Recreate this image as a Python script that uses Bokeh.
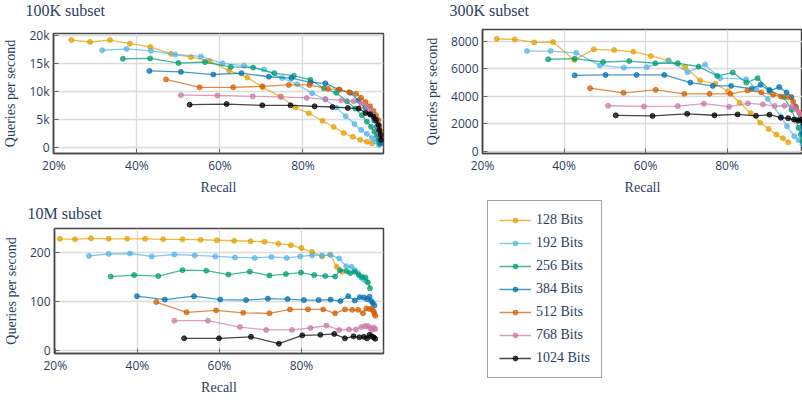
from bokeh.plotting import figure
from bokeh.models import (Range1d, FixedTicker, PrintfTickFormatter, CustomJSTickFormatter,
                          Legend, LegendItem, ColumnDataSource, Label)
from bokeh.layouts import row, column
from bokeh.embed import file_html
from bokeh.resources import INLINE

SERIF = "Liberation Serif"
SANS = "Open Sans"
TXT = "#2a3f5f"

labels = ["128 Bits", "192 Bits", "256 Bits", "384 Bits", "512 Bits", "768 Bits", "1024 Bits"]
colors = ["#E69F00", "#56B4E9", "#009E73", "#0072B2", "#D55E00", "#CC79A7", "#000000"]
titles = ["100K subset", "300K subset", "10M subset"]

# ---------------- 100K subset ----------------
r100k_128 = [24.2, 28.7, 33.5, 38.3, 43.2, 48.2, 53.0, 57.5, 62.2, 66.6, 70.3, 74.6, 78.2, 81.4, 84.7, 87.4, 89.8, 92.0, 93.8, 95.4, 96.6]
q100k_128 = [19230, 18880, 19230, 18580, 17990, 16760, 16170, 15460, 13760, 12520, 10760, 9110, 7170, 6110, 4760, 3650, 2590, 1880, 1350, 1000, 710]
r100k_192 = [31.6, 37.5, 43.4, 49.2, 55.4, 60.6, 65.8, 70.6, 75.0, 78.6, 82.2, 85.4, 88.0, 90.3, 92.4, 94.0, 95.4, 96.6, 97.5, 98.3]
q100k_192 = [17400, 17640, 17290, 16640, 16290, 15050, 14640, 13940, 12420, 11300, 9700, 8590, 7130, 5590, 4180, 3120, 2420, 1660, 1060, 480]
r100k_256 = [36.6, 43.2, 50.0, 56.4, 62.6, 68.0, 73.1, 77.8, 81.8, 85.0, 88.0, 90.6, 92.6, 94.2, 95.4, 96.4, 97.2, 97.8, 98.2, 98.5]
q100k_256 = [15880, 15940, 15110, 15290, 14410, 14290, 13300, 12820, 12120, 10580, 9770, 8240, 6950, 5770, 4590, 3700, 2820, 2060, 1360, 650]
r100k_384 = [43.0, 50.6, 58.4, 65.2, 71.8, 77.2, 81.8, 85.4, 88.7, 91.4, 93.4, 95.0, 96.2, 97.2, 97.8, 98.2, 98.6, 98.8]
q100k_384 = [13700, 13520, 13050, 13300, 12650, 12420, 11640, 11470, 10360, 9770, 8410, 7130, 5890, 4760, 3700, 2650, 1660, 780]
r100k_512 = [47.0, 55.1, 63.2, 70.2, 76.6, 81.6, 86.0, 88.8, 91.1, 92.8, 94.0, 95.1, 96.2, 97.0, 97.6, 98.2, 98.4, 98.7]
q100k_512 = [12170, 10760, 10760, 10940, 11180, 11180, 10480, 10350, 9880, 9600, 8890, 8110, 7360, 6530, 5770, 4890, 3830, 2820]
r100k_768 = [50.6, 59.4, 67.9, 74.7, 80.9, 85.4, 89.3, 92.2, 94.0, 95.4, 96.4, 97.2, 97.8, 98.2, 98.4, 98.7]
q100k_768 = [9350, 9290, 9150, 9030, 8850, 8650, 8440, 8260, 7830, 7230, 6530, 5590, 4590, 3600, 2540, 1660]
r100k_1024 = [52.7, 61.6, 70.2, 77.0, 82.8, 87.1, 90.8, 93.4, 95.1, 96.2, 97.0, 97.6, 98.2, 98.4, 98.7, 98.8]
q100k_1024 = [7640, 7760, 7530, 7530, 7360, 7230, 7060, 6950, 6170, 5940, 5470, 4890, 4000, 3120, 2240, 1360]

# ---------------- 300K subset ----------------
r300k_128 = [23.5, 27.9, 32.7, 37.3, 42.5, 47.3, 52.3, 57.0, 61.3, 65.6, 69.7, 73.4, 77.1, 80.2, 83.1, 85.8, 88.1, 90.2, 92.1, 93.7, 95.0]
q300k_128 = [8190, 8150, 7930, 7950, 6650, 7420, 7370, 7250, 6940, 6620, 6140, 5150, 4910, 4370, 3530, 2760, 2080, 1620, 1210, 940, 650]
r300k_192 = [30.9, 36.7, 43.0, 48.8, 54.7, 60.3, 65.7, 70.3, 74.6, 78.3, 84.7, 87.2, 90.0, 93.2, 94.7, 96.5, 97.6, 98.5]
q300k_192 = [7300, 7300, 7170, 6250, 6090, 6120, 6600, 5760, 6310, 5320, 5250, 4520, 3800, 2540, 1810, 1090, 800, 500]
r300k_256 = [36.1, 42.6, 49.6, 56.0, 62.4, 67.9, 73.0, 77.6, 81.4, 84.7, 87.5, 90.4, 93.9, 95.8, 96.8, 97.5, 98.1, 98.5]
q300k_256 = [6700, 6740, 6500, 6570, 6410, 6410, 6160, 5490, 5730, 5000, 5320, 4470, 3940, 3020, 2300, 1700, 1210, 725]
r300k_384 = [42.6, 50.2, 57.8, 64.6, 71.0, 76.5, 81.0, 86.0, 88.2, 90.4, 92.8, 94.6, 95.8, 96.8, 97.8, 98.5]
q300k_384 = [5530, 5560, 5560, 5560, 5000, 4760, 4760, 4550, 4840, 4400, 4670, 4280, 3940, 3260, 2300, 1330]
r300k_512 = [46.4, 54.6, 62.5, 69.5, 75.7, 80.8, 85.0, 88.4, 91.3, 93.2, 95.0, 96.2, 97.0, 97.8, 98.5]
q300k_512 = [4590, 4250, 4470, 4180, 4180, 4180, 4420, 4280, 4110, 3990, 3940, 3630, 3150, 2780, 2300]
r300k_768 = [50.8, 59.6, 67.9, 74.3, 80.5, 85.1, 88.8, 91.7, 94.1, 95.9, 96.8, 97.6, 98.3, 98.8]
q300k_768 = [3310, 3260, 3290, 3460, 3240, 3480, 3410, 3290, 3310, 3260, 3070, 2830, 2540, 2200]
r300k_1024 = [52.7, 61.7, 70.2, 76.9, 82.6, 87.1, 90.4, 93.2, 95.0, 96.4, 97.5, 98.3, 98.8]
q300k_1024 = [2610, 2570, 2720, 2620, 2680, 2580, 2660, 2440, 2400, 2300, 2230, 2300, 2000]

# ---------------- 10M subset ----------------
r10m_128 = [21.1, 24.8, 28.7, 33.0, 37.5, 41.9, 46.3, 51.0, 55.4, 59.4, 63.6, 67.6, 71.0, 74.4, 77.4, 80.0, 82.6, 85.0, 87.0, 88.6, 89.9]
q10m_128 = [227, 226, 228, 227, 227, 227, 226, 226, 225, 224, 223, 222, 221, 217, 214, 208, 200, 191, 195, 170, 160]
r10m_192 = [28.2, 33.0, 38.2, 43.5, 49.0, 54.0, 59.0, 63.8, 68.6, 72.7, 76.4, 79.7, 82.6, 85.0, 87.1, 89.2, 90.9, 92.2, 93.0, 93.8, 94.6, 95.2, 95.8]
q10m_192 = [192, 196, 197, 191, 195, 193, 191, 189, 188, 190, 188, 191, 193, 193, 194, 187, 171, 170, 163, 157, 148, 144, 141]
r10m_256 = [33.5, 39.2, 45.1, 51.0, 56.8, 62.2, 67.4, 72.2, 76.2, 79.9, 83.1, 85.8, 88.2, 89.4, 91.0, 91.9, 93.0, 94.0, 94.8, 95.6, 96.2, 96.7]
q10m_256 = [150, 153, 151, 163, 162, 154, 160, 152, 155, 158, 153, 151, 150, 163, 161, 157, 160, 153, 149, 148, 138, 126]
r10m_384 = [39.9, 46.7, 53.8, 60.2, 66.5, 71.8, 76.6, 80.6, 84.2, 87.1, 89.5, 91.4, 93.0, 94.2, 95.2, 96.0, 96.6, 97.0, 97.4, 97.8]
q10m_384 = [110, 103, 110, 103, 102, 105, 104, 102, 102, 103, 100, 110, 101, 108, 107, 104, 109, 100, 96, 91]
r10m_512 = [44.6, 52.0, 59.2, 65.8, 72.2, 77.2, 81.6, 85.3, 88.2, 90.6, 92.4, 93.8, 95.0, 95.8, 96.6, 97.2, 97.6, 97.8, 98.0]
q10m_512 = [98, 77, 81, 76, 75, 83, 83, 83, 75, 83, 82, 82, 75, 85, 84, 84, 79, 74, 70]
r10m_768 = [49.0, 57.2, 65.0, 71.4, 77.7, 82.2, 86.1, 89.2, 91.6, 93.3, 94.6, 95.5, 96.2, 96.7, 97.2, 97.6, 98.0]
q10m_768 = [60, 60, 47, 41, 41, 45, 50, 41, 42, 42, 47, 49, 49, 45, 41, 46, 43]
r10m_1024 = [51.4, 59.9, 67.7, 74.5, 80.2, 84.6, 88.0, 90.6, 92.7, 94.1, 95.2, 96.0, 96.6, 97.1, 97.6, 98.0]
q10m_1024 = [24, 24, 27, 13, 30, 31, 33, 24, 28, 26, 27, 24, 31, 28, 26, 23]

x_ticks = [20, 40, 60, 80]
y_ticks_100k = [0, 5000, 10000, 15000, 20000]
y_ticks_300k = [0, 2000, 4000, 6000, 8000]
y_ticks_10m = [0, 100, 200]

series_100k = [(r100k_128, q100k_128), (r100k_192, q100k_192), (r100k_256, q100k_256), (r100k_384, q100k_384),
               (r100k_512, q100k_512), (r100k_768, q100k_768), (r100k_1024, q100k_1024)]
series_300k = [(r300k_128, q300k_128), (r300k_192, q300k_192), (r300k_256, q300k_256), (r300k_384, q300k_384),
               (r300k_512, q300k_512), (r300k_768, q300k_768), (r300k_1024, q300k_1024)]
series_10m = [(r10m_128, q10m_128), (r10m_192, q10m_192), (r10m_256, q10m_256), (r10m_384, q10m_384),
              (r10m_512, q10m_512), (r10m_768, q10m_768), (r10m_1024, q10m_1024)]

ALPHA = 0.72


def blank(width, height, **kw):
    f = figure(width=width, height=height, x_range=Range1d(0, 1), y_range=Range1d(0, 1),
               output_backend="svg", toolbar_location=None, title=None,
               x_axis_location=None, y_axis_location=None, **kw)
    f.xgrid.visible = False
    f.ygrid.visible = False
    f.outline_line_color = None
    f.border_fill_color = "white"
    return f


def title_strip(text, x, y, width=401, height=20):
    f = blank(width, height, min_border=0)
    f.add_layout(Label(x=x, y=y, x_units="screen", y_units="screen", text=text,
                       text_font=SERIF, text_font_size="16px", text_color=TXT,
                       text_align="left", text_baseline="middle"))
    return f


def make_panel(series, xr, yr, yticks, yfmt, width, height, mb, title=None):
    p = figure(width=width, height=height, x_range=Range1d(*xr), y_range=Range1d(*yr),
               output_backend="svg", toolbar_location=None, title=title,
               min_border_left=mb[0], min_border_right=mb[1], min_border_top=mb[2], min_border_bottom=mb[3])
    if title is not None:
        p.title.align = "left"
        p.title.offset = -27
        p.title.vertical_align = "top"
        p.title.standoff = 10
        p.title.text_font = SERIF
        p.title.text_font_size = "16px"
        p.title.text_font_style = "normal"
        p.title.text_color = TXT

    p.xaxis.ticker = FixedTicker(ticks=x_ticks)
    p.xaxis.formatter = PrintfTickFormatter(format="%d%%")
    p.yaxis.ticker = FixedTicker(ticks=yticks)
    if yfmt is not None:
        p.yaxis.formatter = yfmt
    p.xgrid.ticker = FixedTicker(ticks=x_ticks)
    p.ygrid.ticker = FixedTicker(ticks=yticks)
    for g in (p.xgrid, p.ygrid):
        g.grid_line_color = "#dcdcdc"
        g.grid_line_width = 1.3

    p.xaxis.axis_label = "Recall"
    p.yaxis.axis_label = "Queries per second"
    for ax in (p.xaxis, p.yaxis):
        ax.axis_label_text_font = SERIF
        ax.axis_label_text_font_size = "14px"
        ax.axis_label_text_font_style = "normal"
        ax.axis_label_text_color = TXT
        ax.major_label_text_font = SANS
        ax.major_label_text_font_size = "12px"
        ax.major_label_text_color = TXT
        ax.axis_line_color = "#444444"
        ax.axis_line_width = 1.5
        ax.major_tick_in = 5
        ax.major_tick_out = 0
        ax.major_tick_line_color = "#666666"
        ax.minor_tick_line_color = None
    p.xaxis.major_label_standoff = 3
    p.xaxis.axis_label_standoff = 3
    p.yaxis.major_label_standoff = 4
    p.yaxis.axis_label_standoff = 8

    p.outline_line_color = "#444444"
    p.outline_line_width = 1.5
    p.outline_line_alpha = 1.0
    p.background_fill_color = "white"
    p.border_fill_color = "white"

    for (rx, qy), c in zip(series, colors):
        src = ColumnDataSource(dict(x=rx, y=qy))
        p.line("x", "y", source=src, line_color=c, line_width=1.3, line_alpha=ALPHA)
        p.scatter("x", "y", source=src, size=5, fill_color=c, line_color=c, fill_alpha=ALPHA, line_alpha=ALPHA)
    return p


kfmt = CustomJSTickFormatter(code="return tick == 0 ? '0' : (tick/1000) + 'k';")

t1 = title_strip(titles[0], 25, 10)
t2 = title_strip(titles[1], 48, 10)
p1 = make_panel(series_100k, (19.9, 99.4), (-1100, 20400), y_ticks_100k, kfmt, 401, 177, (52, 18, 13, 43))
p2 = make_panel(series_300k, (20.0, 98.5), (-170, 8870), y_ticks_300k, None, 401, 177, (81, 0, 9, 43))
p3 = make_panel(series_10m, (19.8, 100.0), (-7, 248), y_ticks_10m, None, 401, 203, (52, 18, 31, 47),
                title=titles[2])

# legend panel
p4 = blank(401, 203, min_border_left=85, min_border_top=2, min_border_right=0, min_border_bottom=0)
items = []
for lab, c in zip(labels, colors):
    src = ColumnDataSource(dict(x=[-10, -9], y=[-10, -10]))
    lr = p4.line("x", "y", source=src, line_color=c, line_width=1.5, line_alpha=ALPHA)
    sr = p4.scatter("x", "y", source=src, size=5, fill_color=c, line_color=c, fill_alpha=ALPHA, line_alpha=ALPHA)
    items.append(LegendItem(label=lab, renderers=[lr, sr]))
leg = Legend(items=items, location="top_left", orientation="vertical",
             label_text_font=SERIF, label_text_font_size="14px", label_text_color=TXT,
             glyph_width=32, glyph_height=12, label_height=16, spacing=7, padding=11, margin=1,
             label_standoff=5, border_line_color="#444444", border_line_width=1.5,
             background_fill_color="white", background_fill_alpha=1.0)
p4.add_layout(leg, "center")

layout = column(row(t1, t2), row(column(p1), column(p2)), row(column(p3), column(p4)))
open("out.html", "w").write(file_html(layout, INLINE))
